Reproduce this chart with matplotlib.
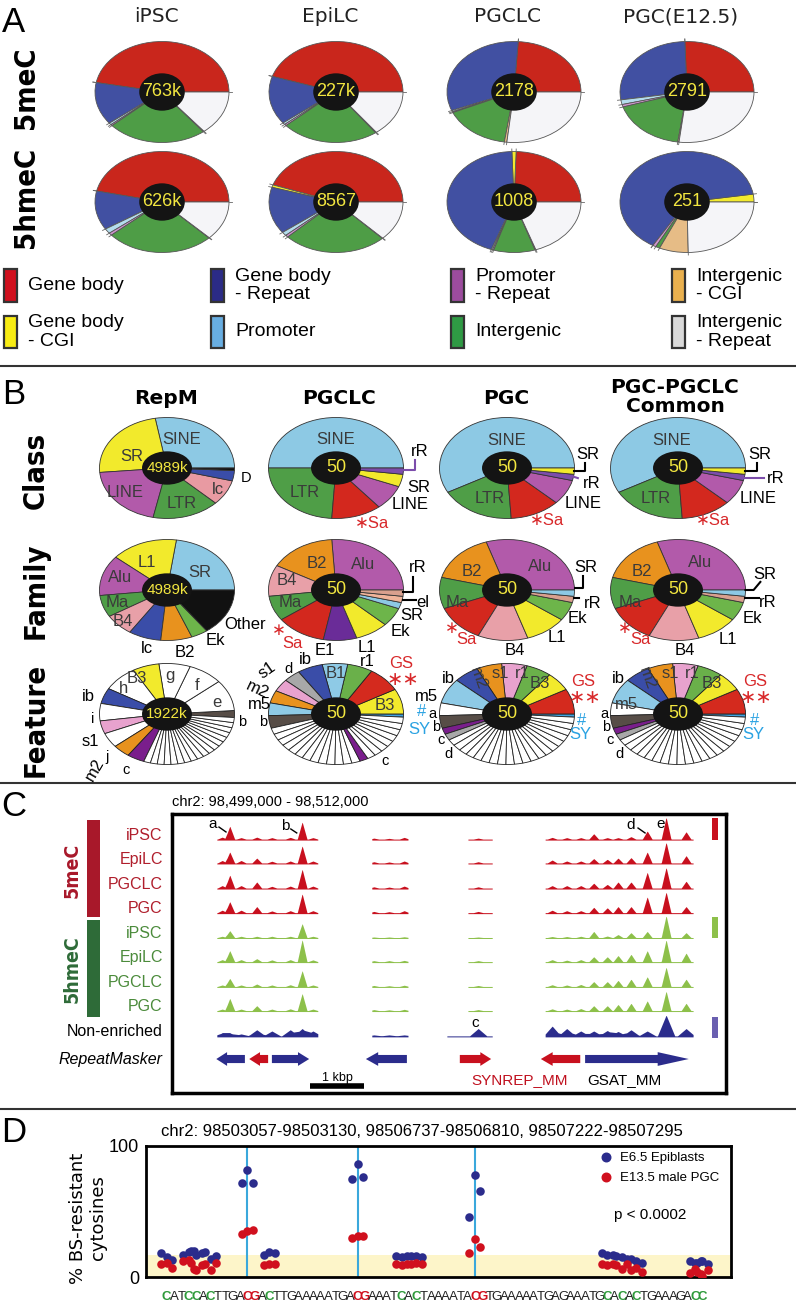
import numpy as np
import matplotlib
matplotlib.use('Agg')
import matplotlib.pyplot as plt
from matplotlib.patches import Ellipse, Rectangle, FancyArrow
from matplotlib import font_manager as fm

# ---------------------------------------------------------------- data
# A : where the enriched regions fall (% of peaks), legend order
regions = ['Gene body', 'Gene body\n- CGI', 'Gene body\n- Repeat', 'Promoter',
           'Promoter\n- Repeat', 'Intergenic', 'Intergenic\n- CGI', 'Intergenic\n- Repeat']
cells_A = ['iPSC', 'EpiLC', 'PGCLC', 'PGC(E12.5)']
n_5meC = ['763k', '227k', '2178', '2791']
n_5hmeC = ['626k', '8567', '1008', '251']
pct_5meC = [[47.0, 0.0, 13.6, 0.6, 0.4, 24.0, 0.2, 14.2],
            [45.0, 0.0, 15.5, 0.6, 0.5, 23.5, 0.2, 14.7],
            [24.0, 0.0, 32.0, 0.4, 0.3, 16.0, 0.6, 26.7],
            [25.5, 0.0, 27.0, 1.5, 0.8, 18.0, 0.3, 26.9]]
pct_5hmeC = [[46.5, 0.0, 12.5, 1.6, 0.8, 26.0, 0.1, 12.5],
             [44.5, 0.8, 15.0, 1.2, 0.7, 25.0, 0.1, 12.7],
             [24.5, 1.0, 44.0, 0.3, 0.3, 10.0, 0.2, 19.7],
             [0.0, 2.5, 64.0, 0.0, 0.8, 1.0, 7.0, 24.7]]

# B : repeat class / family / feature of the top hits
cols_B = ['RepM', 'PGCLC', 'PGC', 'PGC-PGCLC\nCommon']
n_B = ['4989k', '50', '50', '50']
n_feat = ['1922k', '50', '50', '50']
class_names = [['SINE', 'SR', 'LINE', 'LTR', 'lc', 'D', 'Other'],
               ['SINE', 'LTR', 'Sa', 'LINE', 'SR', 'rR'],
               ['SINE', 'LTR', 'Sa', 'LINE', 'rR', 'SR'],
               ['SINE', 'LTR', 'Sa', 'LINE', 'rR', 'SR']]
class_vals = [[27.8, 23.6, 20.3, 16.1, 8.1, 3.3, 0.8],
              [25, 12, 6, 4, 2, 1],
              [29, 9, 6, 4, 1, 1],
              [29, 9, 6, 4, 1, 1]]
fam_names = [['SR', 'L1', 'Alu', 'Ma', 'B4', 'lc', 'B2', 'Ek', 'Other'],
             ['Alu', 'B2', 'B4', 'Ma', 'Sa', 'E1', 'L1', 'Ek', 'SR', 'el', 'rR'],
             ['Alu', 'B2', 'Ma', 'Sa', 'B4', 'L1', 'Ek', 'rR', 'SR'],
             ['Alu', 'B2', 'Ma', 'Sa', 'B4', 'L1', 'Ek', 'rR', 'SR']]
fam_vals = [[22.8, 16.0, 13.0, 7.0, 7.0, 7.8, 7.5, 4.0, 15.0],
            [13, 8, 5, 4, 6, 4, 4, 3, 1, 1, 1],
            [15, 8, 5, 6, 6, 5, 3, 1, 1],
            [15, 8, 5, 6, 6, 5, 3, 1, 1]]
feat_names = [['b', 'e', 'f', 'g', 'B3', 'h', 'ib', 'i', 's1', 'j', 'm2', 'c',
               'w', 'w', 'w', 'w', 'w', 'w', 'w', 'w', 'w', 'w', 'w', 'w', 'w', 'w', 'w', 'w', 'w', 'w'],
              ['SY', 'B3', 'GS', 'r1', 'B1', 'ib', 'd', 's1', 'm2', 'm5', 'b',
               'w', 'w', 'w', 'w', 'w', 'w', 'w', 'w', 'w', 'w', 'w', 'w', 'w', 'c',
               'w', 'w', 'w', 'w', 'w', 'w', 'w', 'w'],
              ['SY', 'GS', 'B3', 'r1', 's1', 'm2', 'ib', 'm5', 'a', 'b', 'c', 'd',
               'w', 'w', 'w', 'w', 'w', 'w', 'w', 'w', 'w', 'w', 'w', 'w', 'w', 'w', 'w', 'w', 'w', 'w', 'w', 'w'],
              ['SY', 'GS', 'B3', 'r1', 's1', 'm2', 'ib', 'm5', 'a', 'b', 'c', 'd',
               'w', 'w', 'w', 'w', 'w', 'w', 'w', 'w', 'w', 'w', 'w', 'w', 'w', 'w', 'w', 'w', 'w', 'w', 'w', 'w']]
feat_vals = [[8, 36, 30, 27, 23, 30, 18, 20, 15, 17, 15, 15,
              5.9, 5.9, 5.9, 5.9, 5.9, 5.9, 5.9, 5.9, 5.9, 5.9, 5.9, 5.9, 5.9, 5.9, 5.9, 5.9, 5.9, 5.9],
             [0.5, 4, 4, 3, 3, 3, 2, 2, 2, 2, 2,
              1, 1, 1, 1, 1, 1, 1, 1, 1, 1, 1, 1, 1, 1,
              1, 1, 1, 1, 1, 1, 1, 1],
             [0.5, 4, 3, 3, 3, 3, 3, 4, 2, 2, 1, 1,
              1, 1, 1, 1, 1, 1, 1, 1, 1, 1, 1, 1, 1, 1, 1, 1, 1, 1, 1, 1],
             [0.5, 4, 3, 3, 3, 3, 3, 4, 2, 2, 1, 1,
              1, 1, 1, 1, 1, 1, 1, 1, 1, 1, 1, 1, 1, 1, 1, 1, 1, 1, 1, 1]]
feat_start = [-4, -3.6, -3.6, -3.6]

# C : browser tracks (peak position kb from window start, height in track units)
track_names = ['iPSC', 'EpiLC', 'PGCLC', 'PGC']
peak_kb = [0.93, 1.07, 1.28, 1.57, 1.85, 2.19, 2.41, 2.61,
           3.74, 4.02, 4.30, 5.67,
           7.04, 7.31, 7.57, 7.81, 8.06, 8.26, 8.50, 8.80, 9.15, 9.52]
meC_h = [[0.08, 0.53, 0.06, 0.08, 0.06, 0.07, 0.70, 0.06, 0.04, 0.03, 0.07, 0.04,
          0.07, 0.06, 0.06, 0.22, 0.06, 0.06, 0.10, 0.33, 0.90, 0.30],
         [0.10, 0.45, 0.10, 0.20, 0.07, 0.08, 0.70, 0.08, 0.05, 0.04, 0.08, 0.05,
          0.12, 0.08, 0.08, 0.18, 0.15, 0.20, 0.22, 0.45, 0.85, 0.30],
         [0.10, 0.53, 0.10, 0.25, 0.07, 0.08, 0.77, 0.08, 0.05, 0.04, 0.08, 0.05,
          0.10, 0.10, 0.10, 0.20, 0.15, 0.25, 0.25, 0.65, 0.85, 0.28],
         [0.10, 0.45, 0.10, 0.25, 0.07, 0.08, 0.77, 0.08, 0.05, 0.04, 0.08, 0.05,
          0.10, 0.08, 0.08, 0.22, 0.20, 0.25, 0.25, 0.65, 0.85, 0.25]]
hmeC_h = [[0.05, 0.28, 0.05, 0.05, 0.05, 0.05, 0.57, 0.05, 0.02, 0.02, 0.03, 0.02,
           0.04, 0.04, 0.05, 0.25, 0.06, 0.12, 0.20, 0.25, 0.90, 0.20],
          [0.08, 0.45, 0.08, 0.12, 0.07, 0.08, 0.90, 0.07, 0.04, 0.04, 0.05, 0.04,
           0.08, 0.06, 0.08, 0.20, 0.20, 0.25, 0.30, 0.45, 0.90, 0.35],
          [0.06, 0.33, 0.06, 0.10, 0.06, 0.07, 0.65, 0.06, 0.04, 0.03, 0.05, 0.04,
           0.07, 0.06, 0.08, 0.20, 0.20, 0.25, 0.30, 0.40, 0.80, 0.30],
          [0.06, 0.50, 0.06, 0.20, 0.06, 0.07, 0.70, 0.06, 0.04, 0.03, 0.05, 0.04,
           0.07, 0.06, 0.08, 0.20, 0.20, 0.25, 0.30, 0.40, 0.80, 0.30]]
input_h = [0.12, 0.12, 0.08, 0.25, 0.20, 0.25, 0.30, 0.20, 0.04, 0.04, 0.04, 0.30,
           0.40, 0.30, 0.20, 0.20, 0.22, 0.18, 0.25, 0.20, 0.85, 0.30]
covered_kb = [(0.83, 2.70), (3.70, 4.37), (5.48, 5.93), (6.91, 9.65)]
covered_input_kb = [(0.83, 2.70), (3.70, 4.37), (5.09, 5.93), (6.91, 9.65)]
rm_from = [1.35, 1.78, 1.85, 4.35, 5.33, 7.56, 7.65]
rm_to = [0.82, 1.43, 2.54, 3.59, 5.91, 6.83, 9.57]
rm_family = ['GSAT_MM', 'SYNREP_MM', 'GSAT_MM', 'GSAT_MM', 'SYNREP_MM', 'SYNREP_MM', 'GSAT_MM']

# D : bisulfite resistant cytosines
seq = 'CATCCACTTGACGACTTGAAAAATGACGAAATCACTAAAATACGTGAAAAATGAGAAATGCACACTGAAAGACC'
c_pos = [0, 3, 4, 6, 11, 14, 26, 32, 34, 42, 60, 62, 64, 72, 73]
cg_pos = [11, 26, 42]
epi_vals = [[18, 15, 13], [17, 19, 20], [20, 17, 18], [19, 14, 16], [72, 82, 72],
            [17, 19, 18], [75, 86, 76], [16, 15, 16], [16, 16, 15], [46, 78, 66],
            [18, 17, 17], [16, 15, 14], [14, 12, 11], [12, 11, 12], [11, 12, 10]]
pgc_vals = [[10, 11, 7], [12, 13, 6], [11, 5, 9], [10, 5, 11], [33, 35, 36],
            [9, 10, 10], [30, 31, 31], [10, 9, 10], [10, 11, 10], [18, 29, 23],
            [10, 9, 10], [9, 6, 10], [5, 7, 4], [3, 6, 2], [4, 1, 5]]

# ---------------------------------------------------------------- style
plt.rcParams['font.family'] = ['Liberation Sans', 'DejaVu Sans']
avail = {f.name for f in fm.fontManager.ttflist}
NARROW = 'Liberation Sans Narrow' if 'Liberation Sans Narrow' in avail else 'DejaVu Sans'
STAR = '\u2217'

pie_cols = ['#C9261C', '#F3EA2E', '#4150A2', '#B4DDED', '#CE96CC', '#4E9D46', '#E6BC86', '#F5F5F8']
leg_cols = ['#D0101E', '#F8EC14', '#2B2B86', '#68AEE2', '#9C4C9E', '#2F9A44', '#E9B04E', '#D9D9D9']
class_col = {'SINE': '#8DC9E4', 'SR': '#F2EA2C', 'LINE': '#B25AAA', 'LTR': '#4F9E47', 'lc': '#E89AA2',
             'D': '#3A4DA8', 'Other': '#111111', 'Sa': '#D3281E', 'rR': '#7C4DAB'}
fam_col = {'L1': '#F2EA2C', 'SR': '#8DC9E4', 'Alu': '#B25AAA', 'Ma': '#4F9E47', 'B4': '#E8A0A8',
           'lc': '#3A4DA8', 'B2': '#E8921E', 'Ek': '#6DB54A', 'Other': '#111111', 'Sa': '#D3281E',
           'E1': '#6A2C98', 'el': '#F0B49A', 'rR': '#D9A08E'}
feat_col = {'b': '#574D47', 'B3': '#F2EA2C', 'ib': '#3A4DA8', 's1': '#E8A2CE', 'm2': '#E8921E',
            'c': '#7A1E8C', 'GS': '#D42A1E', 'r1': '#6AB04A', 'B1': '#8ECAE6', 'd': '#A8A8A8',
            'm5': '#8ECAE6', 'SY': '#3FA2E0', 'a': 'white', 'w': 'white', 'e': 'white', 'f': 'white',
            'g': 'white', 'h': 'white', 'i': 'white', 'j': 'white'}
TXT = {'in': '#3a3a3a', 'out': 'black', 'red': '#D8282A', 'blue': '#2AA2E2'}

W, H = 796, 1306
fig = plt.figure(figsize=(W / 100, H / 100), dpi=100)

# overlay in pixel coordinates, for layout text and separators
ov = fig.add_axes([0, 0, 1, 1], zorder=-1)
ov.set_xlim(0, W)
ov.set_ylim(H, 0)
ov.axis('off')


def draw_pie(cx, cy, w, h, vals, cols, start=0, ec='#3c3c3c', lw=0.6):
    m = 1.03
    ax = fig.add_axes([(cx - w * m / 2) / W, 1 - (cy + h * m / 2) / H, w * m / W, h * m / H])
    keep = [(v, c) for v, c in zip(vals, cols) if v > 0]
    ax.pie([k[0] for k in keep], colors=[k[1] for k in keep], startangle=start,
           counterclock=True, radius=1, wedgeprops=dict(edgecolor=ec, linewidth=lw))
    ax.set_aspect('auto')
    ax.set_xlim(-m, m)
    ax.set_ylim(-m, m)
    ax.axis('off')
    return ax


def hole(ax, txt, hw, hh, size):
    ax.add_patch(Ellipse((0, 0), hw, hh, fc='#141414', ec='none', zorder=5))
    ax.text(0, 0, txt, color='#F2E640', ha='center', va='center', fontsize=size, zorder=6)


def put_labels(ax, specs, size=12):
    for s in specs:
        t, x, y, kind = s[:4]
        rot = s[4] if len(s) > 4 else 0
        if STAR in t and len(t) == 2:
            fs = size + 2
        elif len(t) == 1 and kind == 'out':
            fs = size - 1.5
        else:
            fs = size
        ax.text(x, y, t, color=TXT[kind], fontsize=fs, ha='center', va='center',
                rotation=rot, zorder=7)


def put_lines(ax, lines):
    for xs, ys, c in lines:
        ax.plot(xs, ys, color=c, lw=1.5, clip_on=False, zorder=7)


# ---------------------------------------------------------------- panel A
xA = [162, 336, 514, 687]
yA = [92, 202]
for j in range(4):
    ov.text(xA[j] - 6, 17, cells_A[j], fontsize=14.5, ha='center', va='center',
            family='DejaVu Sans', color='#222222')
    for r, (pct, num) in enumerate([(pct_5meC[j], n_5meC[j]), (pct_5hmeC[j], n_5hmeC[j])]):
        ax = draw_pie(xA[j], yA[r], 134, 101, pct, pie_cols, ec='#555555', lw=0.6)
        ang = np.deg2rad(360 * np.cumsum(pct) / np.sum(pct))
        for a in ang:
            ax.plot([np.cos(a), 1.05 * np.cos(a)], [np.sin(a), 1.05 * np.sin(a)],
                    color='#666666', lw=0.6, clip_on=False)
        hole(ax, num, 0.68, 0.74, 13)

ov.text(26, 88, '5meC', rotation=90, fontsize=21, fontweight='bold', family=NARROW,
        fontstretch='condensed', ha='center', va='center')
ov.text(26, 197, '5hmeC', rotation=90, fontsize=21, fontweight='bold', family=NARROW,
        fontstretch='condensed', ha='center', va='center')

leg_x = [4, 211, 451, 672]
leg_y = [(269, 302), (316, 348)]
for k, name in enumerate(regions):
    cx, ry = leg_x[k // 2], leg_y[k % 2]
    ov.add_patch(Rectangle((cx, ry[0]), 13, ry[1] - ry[0], fc=leg_cols[k], ec='#333333', lw=1.6))
    ov.text(cx + 24, (ry[0] + ry[1]) / 2, name, fontsize=14, ha='left', va='center',
            linespacing=1.15)

# ---------------------------------------------------------------- panel B
xB = [167, 336, 507, 678]
yB = [468, 590, 714]
wB, hB = 135, 101
title_x = [166, 339, 506, 675]
for j in range(4):
    ov.text(title_x[j], 399 if j < 3 else 397, cols_B[j], fontsize=14.5, fontweight='bold',
            family='DejaVu Sans', ha='center', va='center', linespacing=0.95)

for lab, y in zip(['Class', 'Family', 'Feature'], [470, 591, 720]):
    ov.text(36, y, lab, rotation=90, fontsize=21, fontweight='bold', family=NARROW,
            fontstretch='condensed', ha='center', va='center')

class_labels = [
    [('SINE', 0.22, 0.57, 'in'), ('SR', -0.52, 0.22, 'in'), ('LINE', -0.62, -0.48, 'in'),
     ('LTR', 0.22, -0.71, 'in'), ('lc', 0.76, -0.42, 'in'), ('D', 1.17, -0.2, 'out')],
    [('SINE', 0.0, 0.57, 'in'), ('LTR', -0.46, -0.48, 'in'), (STAR + 'Sa', 0.53, -1.09, 'red'),
     ('rR', 1.24, 0.32, 'out'), ('SR', 1.23, -0.38, 'out'), ('LINE', 1.1, -0.73, 'out')],
    [('SINE', 0.0, 0.55, 'in'), ('LTR', -0.25, -0.6, 'in'), (STAR + 'Sa', 0.59, -1.03, 'red'),
     ('SR', 1.2, 0.26, 'out'), ('rR', 1.26, -0.3, 'out'), ('LINE', 1.13, -0.7, 'out')],
    [('SINE', -0.1, 0.55, 'in'), ('LTR', -0.33, -0.6, 'in'), (STAR + 'Sa', 0.52, -1.03, 'red'),
     ('SR', 1.21, 0.26, 'out'), ('rR', 1.44, -0.2, 'out'), ('LINE', 1.19, -0.6, 'out')]]
class_lines = [
    [],
    [([1.0, 1.17, 1.17], [-0.04, -0.04, 0.16], '#7C4DAB')],
    [([0.99, 1.16, 1.16], [-0.06, -0.06, 0.1], 'black'), ([0.98, 1.05], [-0.17, -0.2], '#7C4DAB')],
    [([0.99, 1.17, 1.17], [-0.06, -0.06, 0.1], 'black'), ([0.98, 1.27], [-0.2, -0.2], '#7C4DAB')]]
fam_labels = [
    [('L1', -0.3, 0.55, 'in'), ('SR', 0.49, 0.34, 'in'), ('Alu', -0.7, 0.24, 'in'),
     ('Ma', -0.73, -0.24, 'in'), ('B4', -0.65, -0.63, 'in'), ('lc', -0.3, -1.15, 'out'),
     ('B2', 0.27, -1.23, 'out'), ('Ek', 0.71, -1.0, 'out'), ('Other', 1.16, -0.69, 'out')],
    [('B2', -0.28, 0.53, 'in'), ('Alu', 0.4, 0.5, 'in'), ('B4', -0.73, 0.18, 'in'),
     ('Ma', -0.68, -0.24, 'in'), ('Sa', -0.64, -1.05, 'red'), (STAR, -0.84, -0.8, 'red'),
     ('E1', -0.16, -1.2, 'out'), ('L1', 0.46, -1.13, 'out'), ('Ek', 0.95, -0.83, 'out'),
     ('SR', 1.13, -0.5, 'out'), ('el', 1.29, -0.24, 'out'), ('rR', 1.21, 0.44, 'out')],
    [('B2', -0.52, 0.36, 'in'), ('Alu', 0.49, 0.46, 'in'), ('Ma', -0.73, -0.24, 'in'),
     ('Sa', -0.6, -0.99, 'red'), (STAR, -0.82, -0.76, 'red'), ('B4', 0.12, -1.19, 'out'),
     ('L1', 0.74, -0.95, 'out'), ('Ek', 1.04, -0.57, 'out'), ('rR', 1.27, -0.26, 'out'),
     ('SR', 1.16, 0.44, 'out')],
    [('B2', -0.53, 0.36, 'in'), ('Alu', 0.33, 0.55, 'in'), ('Ma', -0.71, -0.24, 'in'),
     ('Sa', -0.56, -0.99, 'red'), (STAR, -0.79, -0.76, 'red'), ('B4', 0.1, -1.19, 'out'),
     ('L1', 0.74, -0.99, 'out'), ('Ek', 1.1, -0.57, 'out'), ('rR', 1.33, -0.24, 'out'),
     ('SR', 1.29, 0.3, 'out')]]
fam_lines = [
    [],
    [([0.99, 1.14, 1.14], [-0.04, -0.04, 0.26], 'black'), ([0.99, 1.18], [-0.2, -0.2], 'black')],
    [([1.0, 1.13, 1.13], [0.04, 0.04, 0.28], 'black'), ([0.99, 1.07], [-0.16, -0.16], 'black')],
    [([1.0, 1.12, 1.22], [0.0, 0.0, 0.16], 'black'), ([0.99, 1.2], [-0.16, -0.16], 'black')]]
feat_labels = [
    [('B3', -0.44, 0.71, 'in'), ('g', 0.04, 0.77, 'in'), ('f', 0.44, 0.57, 'in'),
     ('e', 0.74, 0.22, 'in'), ('h', -0.65, 0.51, 'in'), ('b', 1.12, -0.16, 'out'),
     ('ib', -1.17, 0.34, 'out'), ('i', -1.1, -0.1, 'out'), ('s1', -1.14, -0.55, 'out'),
     ('j', -0.89, -0.85, 'out'), ('m2', -1.07, -1.1, 'out', 60), ('c', -0.6, -1.1, 'out')],
    [('s1', -1.02, 0.87, 'out', 35), ('d', -0.71, 0.89, 'out'), ('ib', -0.46, 1.07, 'out'),
     ('r1', 0.46, 1.03, 'out'), ('GS', 0.97, 1.0, 'red'), (STAR + STAR, 0.99, 0.66, 'red'),
     ('m2', -1.17, 0.48, 'out', -25), ('m5', -1.13, 0.18, 'out'), ('b', -1.08, -0.16, 'out'),
     ('c', 0.73, -0.93, 'out'), ('#', 1.26, 0.04, 'blue'), ('SY', 1.24, -0.3, 'blue'),
     ('B1', 0.0, 0.81, 'in'), ('B3', 0.72, 0.16, 'in')],
    [('ib', -0.87, 0.71, 'out'), ('m2', -0.43, 0.71, 'in', -70), ('s1', -0.1, 0.81, 'in'),
     ('r1', 0.22, 0.81, 'in'), ('B3', 0.49, 0.61, 'in'), ('GS', 1.13, 0.64, 'red'),
     (STAR + STAR, 1.15, 0.3, 'red'), ('m5', -1.19, 0.34, 'out'), ('a', -1.11, 0.0, 'out'),
     ('b', -1.05, -0.26, 'out'), ('c', -0.98, -0.52, 'out'), ('d', -0.87, -0.8, 'out'),
     ('#', 1.11, -0.12, 'blue'), ('SY', 1.08, -0.4, 'blue')],
    [('ib', -0.89, 0.71, 'out'), ('m2', -0.46, 0.71, 'in', -70), ('s1', -0.12, 0.81, 'in'),
     ('r1', 0.21, 0.81, 'in'), ('B3', 0.5, 0.61, 'in'), ('GS', 1.14, 0.64, 'red'),
     (STAR + STAR, 1.16, 0.3, 'red'), ('m5', -0.76, 0.18, 'in'), ('a', -1.09, 0.0, 'out'),
     ('b', -1.06, -0.26, 'out'), ('c', -1.0, -0.52, 'out'), ('d', -0.87, -0.8, 'out'),
     ('#', 1.14, -0.12, 'blue'), ('SY', 1.11, -0.4, 'blue')]]

for j in range(4):
    ax = draw_pie(xB[j], yB[0], wB, hB, class_vals[j], [class_col[n] for n in class_names[j]],
                  ec='#333333')
    hole(ax, n_B[j], 0.74, 0.66, 11 if j == 0 else 13)
    put_labels(ax, class_labels[j])
    put_lines(ax, class_lines[j])

    ax = draw_pie(xB[j], yB[1], wB, hB, fam_vals[j], [fam_col[n] for n in fam_names[j]],
                  ec='#333333')
    hole(ax, n_B[j], 0.74, 0.66, 11 if j == 0 else 13)
    put_labels(ax, fam_labels[j])
    put_lines(ax, fam_lines[j])

    ax = draw_pie(xB[j], yB[2], wB, hB, feat_vals[j], [feat_col[n] for n in feat_names[j]],
                  start=feat_start[j], ec='#222222', lw=0.6)
    hole(ax, n_feat[j], 0.74, 0.66, 11 if j == 0 else 13)
    put_labels(ax, feat_labels[j])

# ---------------------------------------------------------------- panel C
KB = 54.0     # px per kb
TR = 24.6     # px per track
axc = fig.add_axes([172 / W, 1 - 1093 / H, 554 / W, 279 / H])
axc.set_xlim(0, 554 / KB)
axc.set_ylim(279 / TR, 0)
axc.set_xticks([])
axc.set_yticks([])
for s in axc.spines.values():
    s.set_linewidth(2.5)

track_y = [1.06, 2.03, 3.05, 4.05, 5.06, 6.04, 7.05, 8.03, 9.06]
red, green, navy = '#C8101E', '#8DC04A', '#2B2C8C'


def track(y0, heights, color, spans, width):
    for a, b in spans:
        x = np.linspace(a, b, 300)
        sig = np.full_like(x, 0.04)
        for p, h in zip(peak_kb, heights):
            sig += h * np.clip(1 - np.abs(x - p) / width, 0, None)
        axc.fill_between(x, y0, y0 - sig, color=color, lw=0)


for i in range(4):
    track(track_y[i], meC_h[i], red, covered_kb, 0.09)
    track(track_y[4 + i], hmeC_h[i], green, covered_kb, 0.09)
    axc.text(-0.17, track_y[i] - 0.2, track_names[i], color='#B01E2C', fontsize=11.5,
             ha='right', va='center')
    axc.text(-0.17, track_y[4 + i] - 0.2, track_names[i], color='#4B8B3B', fontsize=11.5,
             ha='right', va='center')
track(track_y[8], input_h, navy, covered_input_kb, 0.16)
axc.text(-0.17, track_y[8] - 0.2, 'Non-enriched', color='black', fontsize=11.5, ha='right', va='center')
axc.text(-0.17, 9.96, 'RepeatMasker', color='black', fontsize=11.5, style='italic',
         ha='right', va='center')

for a, b, fam in zip(rm_from, rm_to, rm_family):
    L = abs(b - a)
    hl = min(max(0.3 * L, 0.2), 0.6)
    axc.add_patch(FancyArrow(a, 9.96, b - a, 0, width=0.33, head_width=0.56, head_length=hl,
                             length_includes_head=True, color=red if fam == 'SYNREP_MM' else navy,
                             lw=0))

# side bars
axc.add_patch(Rectangle((-1.574, 0.24), 0.24, 3.95, fc='#A8182A', ec='none', clip_on=False))
axc.add_patch(Rectangle((-1.574, 4.31), 0.24, 3.94, fc='#2E6B38', ec='none', clip_on=False))
axc.text(-1.85, 2.3, '5meC', color='#A8182A', rotation=90, fontsize=14, fontweight='bold',
         family=NARROW, fontstretch='condensed', ha='center', va='center')
axc.text(-1.85, 6.3, '5hmeC', color='#2E6B38', rotation=90, fontsize=14, fontweight='bold',
         family=NARROW, fontstretch='condensed', ha='center', va='center')
axc.add_patch(Rectangle((10.0, 0.16), 0.11, 0.9, fc=red, ec='none'))
axc.add_patch(Rectangle((10.0, 4.19), 0.11, 0.85, fc=green, ec='none'))
axc.add_patch(Rectangle((10.0, 8.25), 0.11, 0.85, fc='#6A5FB0', ec='none'))

for t, x, y in [('a', 0.76, 0.41), ('b', 2.09, 0.49), ('d', 8.5, 0.45), ('e', 9.04, 0.41),
                ('c', 5.61, 8.5)]:
    axc.text(x, y, t, fontsize=11, ha='center', va='center')
for xs, ys in [([0.87, 1.0], [0.53, 0.73]), ([2.2, 2.31], [0.61, 0.77]), ([8.63, 8.76], [0.57, 0.77])]:
    axc.plot(xs, ys, color='black', lw=1)

axc.plot([2.56, 3.56], [11.06, 11.06], color='black', lw=4, solid_capstyle='butt')
axc.text(3.06, 10.72, '1 kbp', fontsize=9, ha='center', va='center')
axc.text(6.44, 10.8, 'SYNREP_MM', fontsize=11, color='#C0101E', ha='center', va='center')
axc.text(8.37, 10.8, 'GSAT_MM', fontsize=11, color='black', ha='center', va='center')
axc.text(0, -0.49, 'chr2: 98,499,000 - 98,512,000', fontsize=10.5, ha='left', va='center')

# ---------------------------------------------------------------- panel D
axd = fig.add_axes([146 / W, 1 - 1277 / H, 585 / W, 131 / H])
cw = 7.34
axd.set_xlim((146 - 163) / cw - 0.5, (731 - 163) / cw - 0.5)
axd.set_ylim(0, 100)
axd.axhspan(0, 17, color='#FDF5C9', zorder=0, lw=0)
for p in cg_pos:
    axd.axvline(p, color='#3AA8DC', lw=1.5, zorder=1)
offs = [-0.75, 0.0, 0.75]
for p, ev in zip(c_pos, epi_vals):
    axd.scatter([p + o for o in offs], ev, s=38, color='#2B2C8C', zorder=3, lw=0)
for p, pv in zip(c_pos, pgc_vals):
    axd.scatter([p + o for o in offs], pv, s=38, color='#D0101E', zorder=4, lw=0)
axd.scatter([], [], s=38, color='#2B2C8C', label='E6.5 Epiblasts')
axd.scatter([], [], s=38, color='#D0101E', label='E13.5 male PGC')
axd.legend(loc='upper left', bbox_to_anchor=(0.755, 1.0), frameon=False, fontsize=9.5,
           handletextpad=0.05, labelspacing=0.6, borderaxespad=0)
axd.text(0.8, 0.47, 'p < 0.0002', transform=axd.transAxes, fontsize=11, va='center')
axd.set_xticks([])
axd.set_yticks([0, 100])
axd.set_yticklabels(['0', '100'], fontsize=13)
axd.tick_params(axis='y', length=0, pad=5)
for s in axd.spines.values():
    s.set_linewidth(2)
for i, ch in enumerate(seq):
    if i in cg_pos or (i - 1) in cg_pos:
        col, wt = '#D0101E', 'bold'
    elif i in c_pos:
        col, wt = '#2E9A3A', 'bold'
    else:
        col, wt = '#222222', 'normal'
    axd.text(i, -15.5, ch, color=col, fontweight=wt, fontsize=9.5, family='Liberation Sans',
             ha='center', va='center', clip_on=False)
ov.text(422, 1132, 'chr2: 98503057-98503130, 98506737-98506810, 98507222-98507295',
        fontsize=12, ha='center', va='center')
ov.text(88, 1218, '% BS-resistant\ncytosines', rotation=90, fontsize=13, ha='center',
        va='center', family='DejaVu Sans', linespacing=1.1)

# ---------------------------------------------------------------- frame text
for lab, y in [('A', 22), ('B', 395), ('C', 806), ('D', 1133)]:
    ov.text(14, y, lab, fontsize=25, ha='center', va='center')
for y in [366, 783, 1109]:
    ov.plot([0, W], [y, y], color='#333333', lw=1.5)

fig.savefig('out.png', dpi=100)
